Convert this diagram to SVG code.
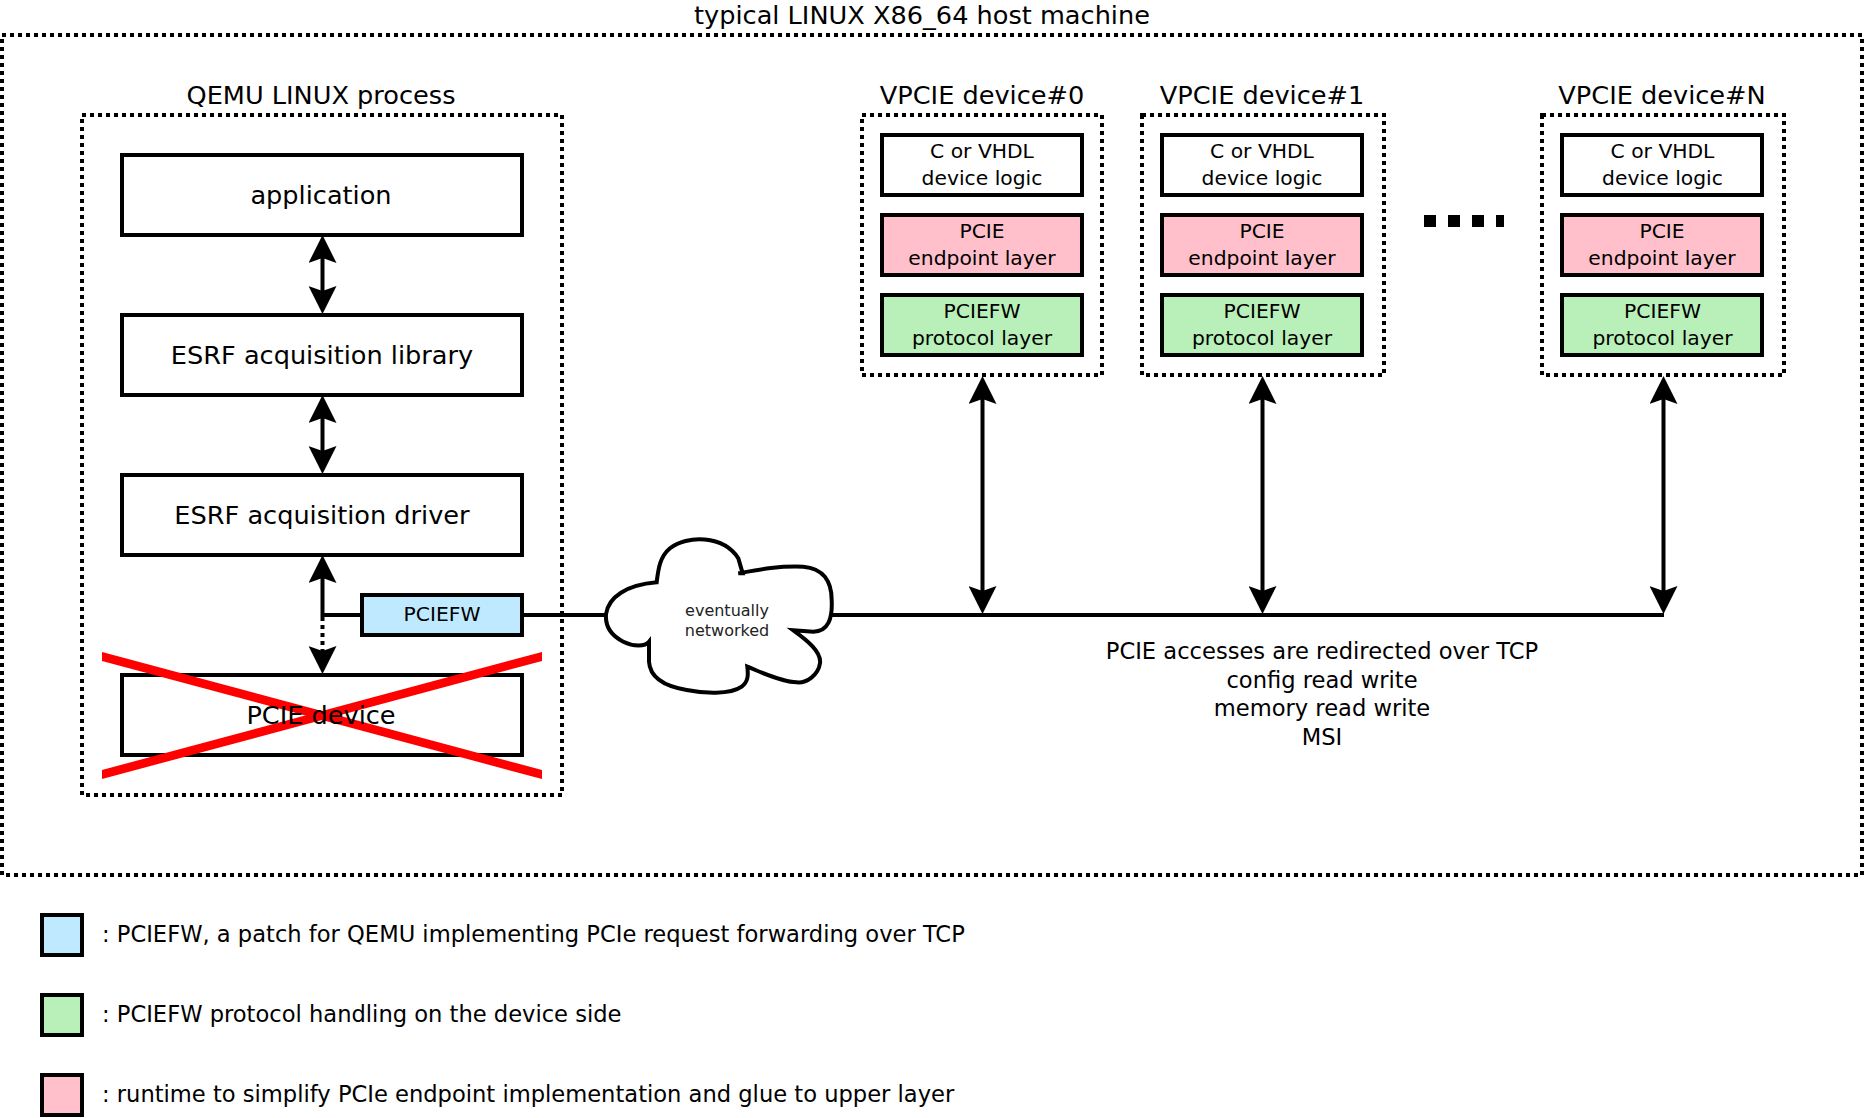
<svg xmlns="http://www.w3.org/2000/svg" width="1866" height="1118" viewBox="0 0 1866 1118">
<style>
text{font-family:"DejaVu Sans",sans-serif;fill:#000;text-anchor:middle}
.t{font-size:25.6px}
.s{font-size:20.3px}
.n{font-size:22.6px}
.l{font-size:22.6px;text-anchor:start}
.c{font-size:16px;fill:#222}
.box{fill:#fff;stroke:#000;stroke-width:4}
.pink{fill:#ffc0cb;stroke:#000;stroke-width:4}
.green{fill:#b9f0b9;stroke:#000;stroke-width:4}
.blue{fill:#bfe9ff;stroke:#000;stroke-width:4}
.dot{fill:none;stroke:#000;stroke-width:4;stroke-dasharray:4 4}
.ln{fill:none;stroke:#000;stroke-width:4}
.arr{marker-start:url(#h);marker-end:url(#h)}
</style>
<defs>
<marker id="h" markerUnits="userSpaceOnUse" markerWidth="28" markerHeight="28" refX="20" refY="14" orient="auto-start-reverse"><path d="M0,0L28,14L0,28L5,14Z" fill="#000"/></marker>
</defs>
<rect width="1866" height="1118" fill="#fff"/>
<g id="host"><rect class="dot" x="2" y="35" width="1860" height="840"/><text class="t" x="922" y="24">typical LINUX X86_64 host machine</text></g>
<g id="qemu"><rect class="dot" x="82" y="115" width="480" height="680"/><text class="t" x="321" y="103.5">QEMU LINUX process</text></g>
<g id="application"><rect class="box" x="122" y="155" width="400" height="80"/><text class="t" x="321" y="203.5">application</text></g>
<g id="library"><rect class="box" x="122" y="315" width="400" height="80"/><text class="t" x="322" y="363.5">ESRF acquisition library</text></g>
<g id="driver"><rect class="box" x="122" y="475" width="400" height="80"/><text class="t" x="322" y="523.5">ESRF acquisition driver</text></g>
<g id="connectors">
<line class="ln arr" x1="322.5" y1="243" x2="322.5" y2="306"/>
<line class="ln arr" x1="322.5" y1="403" x2="322.5" y2="466"/>
<path class="ln" d="M361,615H322.5V563" marker-end="url(#h)"/>
<line class="ln" x1="322.5" y1="617" x2="322.5" y2="666" stroke-dasharray="4 4" marker-end="url(#h)"/>
<path class="ln" d="M523,615H610M830,615H1664"/>
<line class="ln arr" x1="982.5" y1="384" x2="982.5" y2="606"/>
<line class="ln arr" x1="1262.5" y1="384" x2="1262.5" y2="606"/>
<line class="ln arr" x1="1663.5" y1="384" x2="1663.5" y2="606"/>
</g>
<g id="pciefw"><rect class="blue" x="362" y="595" width="160" height="40"/><text class="s" x="442" y="621">PCIEFW</text></g>
<g id="cloud"><path transform="translate(590 525) scale(.33333)" d="M48,268C55,215 110,180 200,172C205,130 210,95 240,70C290,30 400,30 445,100L458,145L445,145C500,135 560,122 640,125C700,130 725,170 725,225C728,280 715,320 670,320L610,316C650,345 695,380 690,415C685,450 650,475 620,472C570,470 510,440 472,425C475,450 475,470 455,485C420,510 340,505 290,495C230,485 180,460 177,410L177,350C165,365 130,365 100,350C70,335 45,310 48,268Z" fill="#fff" stroke="#000" stroke-width="12"/><text class="c" x="727" y="616">eventually</text><text class="c" x="727" y="636">networked</text></g>
<g id="pcie-device"><rect class="box" x="122" y="675" width="400" height="80"/><polygon fill="#f00" points="102,652 542,770 542,779 102,661"/><polygon fill="#f00" points="102,770 542,652 542,661 102,779"/><text class="t" x="321" y="723.5">PCIE device</text></g>
<g id="vpcie0"><rect class="dot" x="862" y="115" width="240" height="260"/><text class="t" x="982" y="103.5">VPCIE device#0</text>
<rect class="box" x="882" y="135" width="200" height="60"/><text class="s" x="982" y="158">C or VHDL</text><text class="s" x="982" y="184.5">device logic</text>
<rect class="pink" x="882" y="215" width="200" height="60"/><text class="s" x="982" y="238">PCIE</text><text class="s" x="982" y="264.5">endpoint layer</text>
<rect class="green" x="882" y="295" width="200" height="60"/><text class="s" x="982" y="318">PCIEFW</text><text class="s" x="982" y="344.5">protocol layer</text></g>
<g id="vpcie1"><rect class="dot" x="1142" y="115" width="242" height="260"/><text class="t" x="1262" y="103.5">VPCIE device#1</text>
<rect class="box" x="1162" y="135" width="200" height="60"/><text class="s" x="1262" y="158">C or VHDL</text><text class="s" x="1262" y="184.5">device logic</text>
<rect class="pink" x="1162" y="215" width="200" height="60"/><text class="s" x="1262" y="238">PCIE</text><text class="s" x="1262" y="264.5">endpoint layer</text>
<rect class="green" x="1162" y="295" width="200" height="60"/><text class="s" x="1262" y="318">PCIEFW</text><text class="s" x="1262" y="344.5">protocol layer</text></g>
<g id="vpcieN"><rect class="dot" x="1542" y="115" width="242" height="260"/><text class="t" x="1662" y="103.5">VPCIE device#N</text>
<rect class="box" x="1562" y="135" width="200" height="60"/><text class="s" x="1662.5" y="158">C or VHDL</text><text class="s" x="1662.5" y="184.5">device logic</text>
<rect class="pink" x="1562" y="215" width="200" height="60"/><text class="s" x="1662" y="238">PCIE</text><text class="s" x="1662" y="264.5">endpoint layer</text>
<rect class="green" x="1562" y="295" width="200" height="60"/><text class="s" x="1662.5" y="318">PCIEFW</text><text class="s" x="1662.5" y="344.5">protocol layer</text></g>
<g id="ellipsis"><line x1="1424" y1="221" x2="1504" y2="221" stroke="#000" stroke-width="12" stroke-dasharray="12 12"/></g>
<g id="note"><text class="n" x="1322" y="659">PCIE accesses are redirected over TCP</text><text class="n" x="1322" y="688">config read write</text><text class="n" x="1322" y="716">memory read write</text><text class="n" x="1322" y="744.5">MSI</text></g>
<g id="legend-blue"><rect class="blue" x="42" y="915" width="40" height="40"/><text class="l" x="102" y="942">: PCIEFW, a patch for QEMU implementing PCIe request forwarding over TCP</text></g>
<g id="legend-green"><rect class="green" x="42" y="995" width="40" height="40"/><text class="l" x="102" y="1022">: PCIEFW protocol handling on the device side</text></g>
<g id="legend-pink"><rect class="pink" x="42" y="1075" width="40" height="40"/><text class="l" x="102" y="1102">: runtime to simplify PCIe endpoint implementation and glue to upper layer</text></g>
</svg>
